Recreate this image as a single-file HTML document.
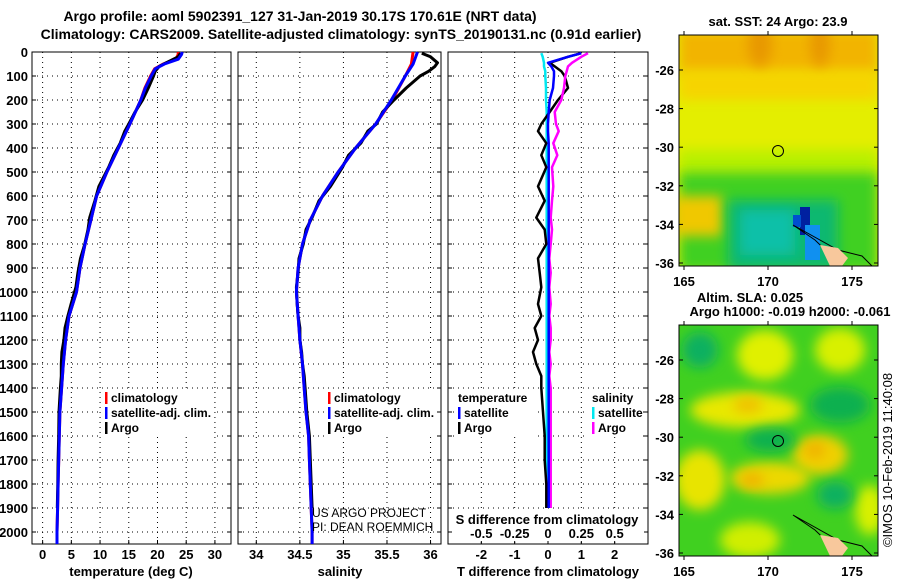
<!DOCTYPE html>
<html><head><meta charset="utf-8">
<style>
body{margin:0;background:#fff;}
svg{display:block;font-family:"Liberation Sans",Arial,sans-serif;}
.b{font-weight:bold;font-size:13px;}
.l{font-weight:bold;font-size:12px;}
</style></head>
<body>
<svg id="c" width="900" height="580" viewBox="0 0 900 580">
<defs>
<filter id="bl" x="-50%" y="-50%" width="200%" height="200%"><feGaussianBlur stdDeviation="6"/></filter>
<clipPath id="m1c"><rect x="679" y="35" width="199" height="231"/></clipPath>
<clipPath id="m2c"><rect x="679" y="325" width="199" height="231"/></clipPath>
</defs>
<text x="300" y="21" text-anchor="middle" style="font-weight:bold;font-size:14px">Argo profile: aoml 5902391_127 31-Jan-2019 30.17S 170.61E (NRT data)</text>
<text x="341" y="39" text-anchor="middle" style="font-weight:bold;font-size:14px">Climatology: CARS2009. Satellite-adjusted climatology: synTS_20190131.nc (0.91d earlier)</text>

<!-- top map -->
<g clip-path="url(#m1c)">
<rect x="679" y="35" width="199" height="231" fill="#e4ee00"/>
<rect x="679" y="30" width="199" height="45" fill="#f2b400" filter="url(#bl)"/>
<rect x="679" y="70" width="199" height="30" fill="#f6d400" filter="url(#bl)"/>
<ellipse cx="760" cy="45" rx="12" ry="22" fill="#e89800" filter="url(#bl)"/>
<ellipse cx="820" cy="45" rx="10" ry="22" fill="#e89800" filter="url(#bl)"/>
<rect x="679" y="150" width="199" height="25" fill="#b8f000" filter="url(#bl)"/>
<rect x="679" y="172" width="199" height="100" fill="#40d020" filter="url(#bl)"/>
<rect x="672" y="196" width="50" height="40" fill="#f0c800" filter="url(#bl)"/>
<rect x="728" y="200" width="110" height="70" fill="#10b870" filter="url(#bl)"/>
<rect x="740" y="210" width="55" height="45" fill="#10c0a8" filter="url(#bl)"/>
<rect x="800" y="207" width="10" height="28" fill="#0020a0"/>
<rect x="793" y="215" width="8" height="12" fill="#0050d0"/>
<rect x="805" y="225" width="15" height="35" fill="#1090f0"/>
<path d="M793,225 L838,250 L862,256 L872,266 L842,266 L815,240 Z" fill="none" stroke="#000" stroke-width="1"/>
<path d="M820,245 L838,248 L848,258 L842,266 L830,266 Z" fill="#f8c89c"/>
<circle cx="778" cy="151" r="5.5" fill="none" stroke="#000" stroke-width="1"/>
</g>
<rect x="679" y="35" width="199" height="231" fill="none" stroke="#000"/>
<text x="778" y="26" text-anchor="middle" class="b">sat. SST: 24 Argo: 23.9</text>

<!-- bottom map -->
<g clip-path="url(#m2c)">
<rect x="679" y="325" width="199" height="231" fill="#40d020"/>
<ellipse cx="765" cy="355" rx="28" ry="25" fill="#e0f000" filter="url(#bl)"/>
<ellipse cx="840" cy="350" rx="25" ry="22" fill="#d8f000" filter="url(#bl)"/>
<ellipse cx="745" cy="410" rx="55" ry="18" fill="#e8e800" filter="url(#bl)"/>
<ellipse cx="748" cy="405" rx="15" ry="8" fill="#f0c000" filter="url(#bl)"/>
<ellipse cx="820" cy="455" rx="28" ry="20" fill="#f0d000" filter="url(#bl)"/>
<ellipse cx="815" cy="450" rx="10" ry="8" fill="#f0b000" filter="url(#bl)"/>
<ellipse cx="770" cy="478" rx="40" ry="16" fill="#ecd800" filter="url(#bl)"/>
<ellipse cx="752" cy="480" rx="12" ry="7" fill="#f0b000" filter="url(#bl)"/>
<ellipse cx="700" cy="480" rx="25" ry="30" fill="#e8e400" filter="url(#bl)"/>
<ellipse cx="750" cy="540" rx="30" ry="18" fill="#d0ee00" filter="url(#bl)"/>
<ellipse cx="870" cy="510" rx="15" ry="25" fill="#d8f000" filter="url(#bl)"/>
<ellipse cx="700" cy="350" rx="18" ry="18" fill="#10b060" filter="url(#bl)"/>
<ellipse cx="770" cy="440" rx="25" ry="12" fill="#10b050" filter="url(#bl)"/>
<ellipse cx="840" cy="405" rx="30" ry="18" fill="#10b050" filter="url(#bl)"/>
<ellipse cx="835" cy="495" rx="18" ry="14" fill="#10b060" filter="url(#bl)"/>
<path d="M793,515 L838,540 L862,546 L872,556 L842,556 L815,530 Z" fill="none" stroke="#000" stroke-width="1"/>
<path d="M820,535 L838,538 L848,548 L842,556 L830,556 Z" fill="#f8c89c"/>
<circle cx="778" cy="441" r="5.5" fill="none" stroke="#000" stroke-width="1"/>
</g>
<rect x="679" y="325" width="199" height="231" fill="none" stroke="#000"/>
<text x="750" y="302" text-anchor="middle" class="b">Altim. SLA: 0.025</text>
<text x="790" y="316" text-anchor="middle" class="b">Argo h1000: -0.019 h2000: -0.061</text>
<text transform="translate(892,460) rotate(-90)" text-anchor="middle" style="font-size:13px">©IMOS 10-Feb-2019 11:40:08</text>
<g id="plots"></g>
</svg>
<script>
// ---- data ----
const tDepth=[0,10,30,50,70,100,150,200,300,400,500,600,700,800,900,1000,1100,1200,1300,1400,1500,1600,1700,1800,1900,2000,2050];
const tClim=[23.6,23.6,23.2,21,19.5,18.8,17.8,17.1,15.2,13.2,11.2,9.4,8.4,7.4,6.5,5.9,4.6,4.0,3.6,3.3,3.0,2.9,2.8,2.7,2.6,2.5,2.5];
const tSat=[24.3,24.2,23.6,21.2,19.6,18.9,17.9,17.1,15.2,13.2,11.2,9.4,8.4,7.4,6.5,5.9,4.6,4.0,3.6,3.3,3.0,2.9,2.8,2.7,2.6,2.5,2.5];
const aDepth=[5,20,45,60,80,100,150,200,250,300,330,380,430,480,560,620,690,740,800,860,920,980,1050,1100,1150,1200,1250,1300,1350,1400,1500,1600,1700,1800,1900];
const tArgo=[24.0,23.6,21.5,20.3,19.6,19.3,18.4,17.4,16.1,15.0,14.3,13.5,12.4,11.5,9.8,9.1,8.2,7.9,7.35,6.6,6.15,5.8,4.95,4.4,3.9,3.7,3.35,3.25,3.25,3.1,2.85,2.8,2.7,2.65,2.55];
const sDepth=[0,50,100,200,300,400,500,600,700,800,900,1000,1100,1200,1300,1400,1500,1600,1700,1800,1900,2000,2050];
const sClim=[35.8,35.78,35.71,35.56,35.37,35.14,34.94,34.76,34.62,34.53,34.48,34.46,34.48,34.5,34.53,34.55,34.57,34.6,34.61,34.62,34.63,34.64,34.64];
const sSat=[35.85,35.8,35.71,35.55,35.37,35.14,34.94,34.76,34.62,34.53,34.48,34.46,34.48,34.5,34.53,34.55,34.57,34.6,34.61,34.62,34.63,34.64,34.64];
const sArgo=[35.9,36.0,36.08,36.05,35.98,35.88,35.72,35.58,35.45,35.38,35.28,35.2,35.06,34.99,34.85,34.72,34.64,34.57,34.54,34.49,34.48,34.46,34.47,34.48,34.5,34.5,34.52,34.53,34.55,34.56,34.58,34.61,34.62,34.63,34.64];
const dtSat=[1.0,0.6,0.0,0.1,0.18,0.18,0.15,0.05,0.02,0,0,0.02,0.02,0.02,0.02,0.02,0.02,0.02,0.02,0.02,0.02,0.02,0.02,0.02,0.02,0.02,0.02,0.02,0.02,0.02,0.02,0.02,0.02,0.02,0.02];
const dtArgo=[1.0,0.6,0.05,0.2,0.4,0.5,0.6,0.3,0.05,-0.2,-0.3,-0.05,-0.2,-0.05,-0.3,-0.1,-0.35,-0.1,-0.05,-0.3,-0.25,-0.2,-0.3,-0.2,-0.4,-0.3,-0.45,-0.35,-0.2,-0.2,-0.15,-0.1,-0.1,-0.05,-0.05];
const dsSat=[-0.05,-0.04,-0.03,-0.03,-0.02,-0.02,-0.015,-0.015,-0.01,-0.01,-0.01,-0.01,-0.01,-0.01,-0.01,-0.01,-0.01,-0.01,-0.01,-0.01,-0.01,-0.01,-0.01,-0.01,-0.01,-0.01,-0.01,-0.01,-0.01,-0.01,-0.01,-0.01,-0.01,-0.01,-0.01];
const dsArgo=[0.3,0.25,0.18,0.15,0.14,0.13,0.12,0.1,0.05,0.06,0.08,0.04,0.07,0.03,0.04,0.03,0.02,0.03,0.02,0.01,0.02,0.01,0.02,0.01,0.02,0.02,0.01,0.02,0.01,0.02,0.02,0.02,0.02,0.02,0.02];
const depthTicks=[0,100,200,300,400,500,600,700,800,900,1000,1100,1200,1300,1400,1500,1600,1700,1800,1900,2000];
const tTicks=[0,5,10,15,20,25,30];
const sTicks=["34","34.5","35","35.5","36"];
const dTTicks=["-2","-1","0","1","2"];
const dSTicks=["-0.5","-0.25","0","0.25","0.5"];

const NS='http://www.w3.org/2000/svg';
const G=document.getElementById('plots');
function mk(tag,at,parent){const e=document.createElementNS(NS,tag);for(const k in at)e.setAttribute(k,at[k]);(parent||G).appendChild(e);return e;}
const Y=d=>52+d*0.24;
const TOP=52,BOT=544;
const panels=[
 {name:'temperature-panel',x0:32,x1:231,dmin:-1.85,dmax:32.8},
 {name:'salinity-panel',x0:238,x1:441,dmin:33.79,dmax:36.12},
 {name:'difference-panel',x0:448,x1:648,dmin:-3,dmax:3}
];
function X(p,v){return p.x0+(v-p.dmin)/(p.dmax-p.dmin)*(p.x1-p.x0);}
function frame(p,ticks,labels){
  const g=mk('g',{});
  
  
  depthTicks.forEach(d=>{const gl=mk('line',{x1:p.x0,x2:p.x1,y1:Y(d),y2:Y(d),stroke:'#000','stroke-width':1,'stroke-dasharray':'1 4'},g);
   
   
   mk('line',{x1:p.x0,x2:p.x0+4,y1:Y(d),y2:Y(d),stroke:'#000'},g);
   mk('line',{x1:p.x1,x2:p.x1-4,y1:Y(d),y2:Y(d),stroke:'#000'},g);});
  ticks.forEach((v,i)=>{const x=X(p,v);
   const gl=mk('line',{x1:x,x2:x,y1:TOP,y2:BOT,stroke:'#000','stroke-width':1,'stroke-dasharray':'1 4'},g);
   
   
   mk('line',{x1:x,x2:x,y1:BOT,y2:BOT-4,stroke:'#000'},g);
   const t=mk('text',{x:x,y:559,'text-anchor':'middle','class':'b'},g);t.textContent=labels[i];
   
   });
  const r=mk('rect',{x:p.x0,y:TOP,width:p.x1-p.x0,height:BOT-TOP,fill:'none',stroke:'#000'},g);
  
  
  return g;
}
function line(p,vals,depths,color,w,name){
  const pts=vals.map((v,i)=>X(p,v).toFixed(1)+','+Y(depths[i]).toFixed(1)).join(' ');
  const l=mk('polyline',{points:pts,fill:'none',stroke:color,'stroke-width':w,'stroke-linejoin':'round'});
  
  
}
function txt(x,y,s,cls,anchor,name,style){const t=mk('text',{x:x,y:y,'text-anchor':anchor||'start'});if(cls)t.setAttribute('class',cls);if(style)t.setAttribute('style',style);t.textContent=s;
  
  
  return t;}
function legend(x,y,items){
  const bg=mk('rect',{x:x-4,y:y-12,width:items.w,height:items.list.length*15+2,fill:'#fff'});
  
  
  items.list.forEach((it,i)=>{const yy=y+i*15;
   if(it.c){const m=mk('rect',{x:x,y:yy-10,width:2.5,height:12,fill:it.c});
     
     }
   txt(x+(it.c?6:0),yy,it.t,'l','start','legend-entry');});
}
const P1=panels[0],P2=panels[1],P3=panels[2];
// panel 1
frame(P1,tTicks,tTicks.map(String));
depthTicks.forEach(d=>txt(28,Y(d)+5,String(d),'b','end','y-tick-label'));
line(P1,tClim,tDepth,'#f00',3,'temperature-climatology-line');
line(P1,tArgo,aDepth,'#000',3,'temperature-argo-line');
line(P1,tSat,tDepth,'#0000ff',3,'temperature-satellite-line');
legend(105,402,{w:112,list:[{c:'#f00',t:'climatology'},{c:'#00f',t:'satellite-adj. clim.'},{c:'#000',t:'Argo'}]});
txt(131,576,'temperature (deg C)','b','middle','x-axis-title-temperature');
// panel 2
frame(P2,sTicks.map(Number),sTicks);
line(P2,sClim,sDepth,'#f00',3,'salinity-climatology-line');
line(P2,sArgo,aDepth,'#000',3,'salinity-argo-line');
line(P2,sSat,sDepth,'#0000ff',3,'salinity-satellite-line');
legend(328,402,{w:112,list:[{c:'#f00',t:'climatology'},{c:'#00f',t:'satellite-adj. clim.'},{c:'#000',t:'Argo'}]});
txt(340,576,'salinity','b','middle','x-axis-title-salinity');
txt(312,517,'US ARGO PROJECT','','start','project-credit','font-size:12px');
txt(312,531,'PI: DEAN ROEMMICH','','start','pi-credit','font-size:12px');
// panel 3
frame(P3,dTTicks.map(Number),dTTicks);
line(P3,dsSat.map(v=>v*4),aDepth,'#00e8f0',2.5,'salinity-diff-satellite-line');
line(P3,dtArgo,aDepth,'#000',2.5,'temperature-diff-argo-line');
line(P3,dsArgo.map(v=>v*4),aDepth,'#ff00ff',2.5,'salinity-diff-argo-line');
line(P3,dtSat,aDepth,'#0000ff',2.5,'temperature-diff-satellite-line');
legend(458,402,{w:84,list:[{t:'temperature'},{c:'#00f',t:'satellite'},{c:'#000',t:'Argo'}]});
legend(592,402,{w:54,list:[{t:'salinity'},{c:'#00e8f0',t:'satellite'},{c:'#f0f',t:'Argo'}]});
const sb=mk('rect',{x:452,y:509,width:192,height:32,fill:'#fff'});


txt(547,524,'S difference from climatology','b','middle','s-axis-title');
dSTicks.forEach((s,i)=>txt(X(P3,Number(s)*4),538,s,'b','middle','s-tick-label'));
txt(548,576,'T difference from climatology','b','middle','x-axis-title-t-diff');
// maps axes
const lats=[-26,-28,-30,-32,-34,-36],lons=[165,170,175];
[[35,70],[325,360]].forEach(([top,y26])=>{
 lats.forEach(l=>{const y=y26+(-26-l)*19.3;
  txt(674,y+5,String(l),'b','end','map-lat-label');
  mk('line',{x1:679,x2:683,y1:y,y2:y,stroke:'#000'});mk('line',{x1:878,x2:874,y1:y,y2:y,stroke:'#000'});});
 lons.forEach(l=>{const x=684+(l-165)*16.8;
  txt(x,top+251,String(l),'b','middle','map-lon-label');
  mk('line',{x1:x,x2:x,y1:top-4,y2:top,stroke:'#000'});mk('line',{x1:x,x2:x,y1:top+231,y2:top+235,stroke:'#000'});});
});
</script>
</body></html>
